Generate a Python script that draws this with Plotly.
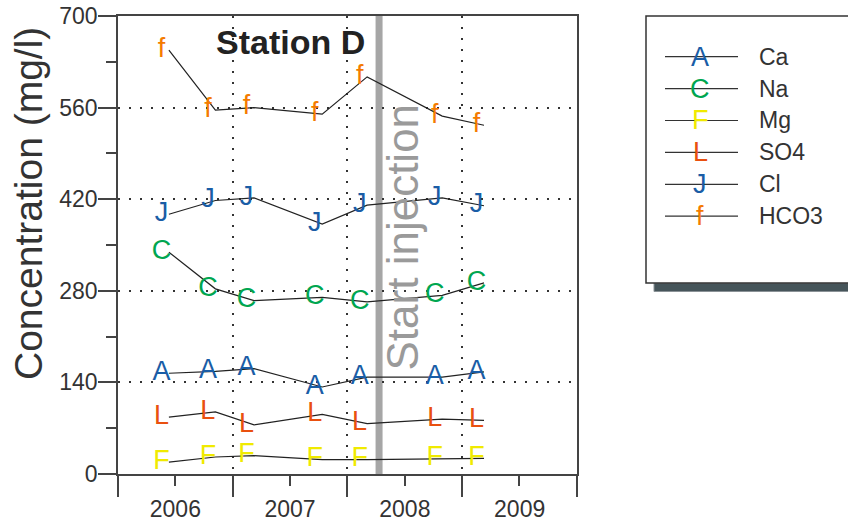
import plotly.graph_objects as go

# ---------------- data ----------------
dates = ["2006-06-12", "2006-11-07", "2007-03-10", "2007-10-13",
         "2008-03-04", "2008-10-29", "2009-03-11"]
names = ["Ca", "Na", "Mg", "SO4", "Cl", "HCO3"]
symbols = ["A", "C", "F", "L", "J", "f"]
ca = [154, 157, 161, 133, 148, 148, 156]
na = [339, 283, 265, 270, 263, 273, 292]
mg = [18, 26, 28, 22, 22, 24, 24]
so4 = [87, 95, 75, 91, 77, 84, 82]
cl = [397, 418, 422, 382, 411, 422, 410]
hco3 = [648, 556, 560, 550, 607, 547, 533]
series = [ca, na, mg, so4, cl, hco3]
colors = ["#1a5da6", "#00a650", "#f0ea00", "#e9500f", "#1a5da6", "#f47b00"]
injection_date = "2008-04-11"
y_ticks = [0, 140, 280, 420, 560, 700]

# ---------------- layout constants ----------------
W, H = 848, 522
L, R, T, B = 118, 577, 16, 474
PW, PH = R - L, B - T
FONT = "Liberation Sans, Arial, sans-serif"
NB = "\u00a0"


def px(xp):
    return (xp - L) / PW


def py(yp):
    return (B - yp) / PH


fig = go.Figure()

for name, sym, vals, col in zip(names, symbols, series, colors):
    fig.add_trace(go.Scatter(
        x=dates, y=vals, name=name,
        mode="lines+text",
        line=dict(color="#222222", width=1.2),
        text=[sym + NB + NB] * len(vals),
        textposition="middle center",
        textfont=dict(family=FONT, size=27, color=col),
        showlegend=False, cliponaxis=False,
    ))

shapes = [
    dict(type="line", xref="x", yref="paper", x0=injection_date, x1=injection_date,
         y0=0, y1=1, line=dict(color="#a6a6a6", width=7), layer="between"),
    # legend shadow
    dict(type="rect", xref="paper", yref="paper", x0=px(654), x1=px(860),
         y0=py(291.5), y1=py(283), fillcolor="#46555a",
         line=dict(color="#8a9296", width=1), layer="above"),
    # legend box
    dict(type="rect", xref="paper", yref="paper", x0=px(646), x1=px(860),
         y0=py(283), y1=py(16), fillcolor="white",
         line=dict(color="#333333", width=1.5), layer="above"),
]

annotations = [
    dict(text="<b>Station D</b>", xref="paper", yref="paper", x=px(290), y=py(41.5),
         showarrow=False, xanchor="center", yanchor="middle",
         font=dict(family=FONT, size=34, color="#222222")),
    dict(text="Start injection", xref="paper", yref="paper", x=px(402), y=py(237.5),
         showarrow=False, textangle=-90, xanchor="center", yanchor="middle",
         font=dict(family=FONT, size=44, color="#9a9a9a")),
    dict(text="Concentration (mg/l)", xref="paper", yref="paper", x=px(29), y=py(204),
         showarrow=False, textangle=-90, xanchor="center", yanchor="middle",
         font=dict(family=FONT, size=39, color="#333333")),
]

# manual legend
row0, step = 56.7, 31.9
for i, (name, sym, col) in enumerate(zip(names, symbols, colors)):
    yy = row0 + i * step
    shapes.append(dict(type="line", xref="paper", yref="paper", x0=px(665), x1=px(738),
                       y0=py(yy), y1=py(yy), line=dict(color="#333333", width=1.2),
                       layer="above"))
    annotations.append(dict(text=sym, xref="paper", yref="paper", x=px(700), y=py(yy),
                            showarrow=False, xanchor="center", yanchor="middle",
                            font=dict(family=FONT, size=27, color=col)))
    annotations.append(dict(text=name, xref="paper", yref="paper", x=px(757), y=py(yy),
                            showarrow=False, xanchor="left", yanchor="middle",
                            font=dict(family=FONT, size=23, color="#333333")))

grid_dash = "2px,9px"
fig.update_layout(
    width=W, height=H,
    margin=dict(l=L, r=W - R, t=T, b=H - B, pad=0, autoexpand=False),
    paper_bgcolor="white", plot_bgcolor="white",
    font=dict(family=FONT, size=23, color="#333333"),
    shapes=shapes, annotations=annotations,
    showlegend=False,
    xaxis=dict(
        type="date", range=["2006-01-01", "2010-01-01"], automargin=False,
        tick0="2006-01-01", dtick="M12", tickformat="%Y", ticklabelmode="period",
        ticks="outside", ticklen=21, tickwidth=1.5, tickcolor="#444444",
        ticklabelstandoff=-7,
        showline=True, linecolor="#444444", linewidth=1.5, mirror=True,
        showgrid=True, gridcolor="#333333", gridwidth=1.5, griddash=grid_dash,
        minor=dict(dtick="M6", ticks="outside", ticklen=10, tickwidth=1.5,
                   tickcolor="#444444", showgrid=False),
        tickfont=dict(family=FONT, size=23, color="#333333"),
        zeroline=False, fixedrange=True,
    ),
    yaxis=dict(
        range=[0, 700], tickvals=y_ticks, automargin=False,
        ticks="outside", ticklen=18, tickwidth=1.5, tickcolor="#444444",
        ticklabelstandoff=-4,
        showline=True, linecolor="#444444", linewidth=1.5, mirror=True,
        showgrid=True, gridcolor="#333333", gridwidth=1.5, griddash=grid_dash,
        minor=dict(dtick=70, ticks="outside", ticklen=10, tickwidth=1.5,
                   tickcolor="#444444", showgrid=False),
        tickfont=dict(family=FONT, size=23, color="#333333"),
        zeroline=False, fixedrange=True,
    ),
)

fig.write_html(
    "out.html",
    config={"displayModeBar": False},
    post_script="document.body.style.margin='0';document.body.style.overflow='hidden';",
)
